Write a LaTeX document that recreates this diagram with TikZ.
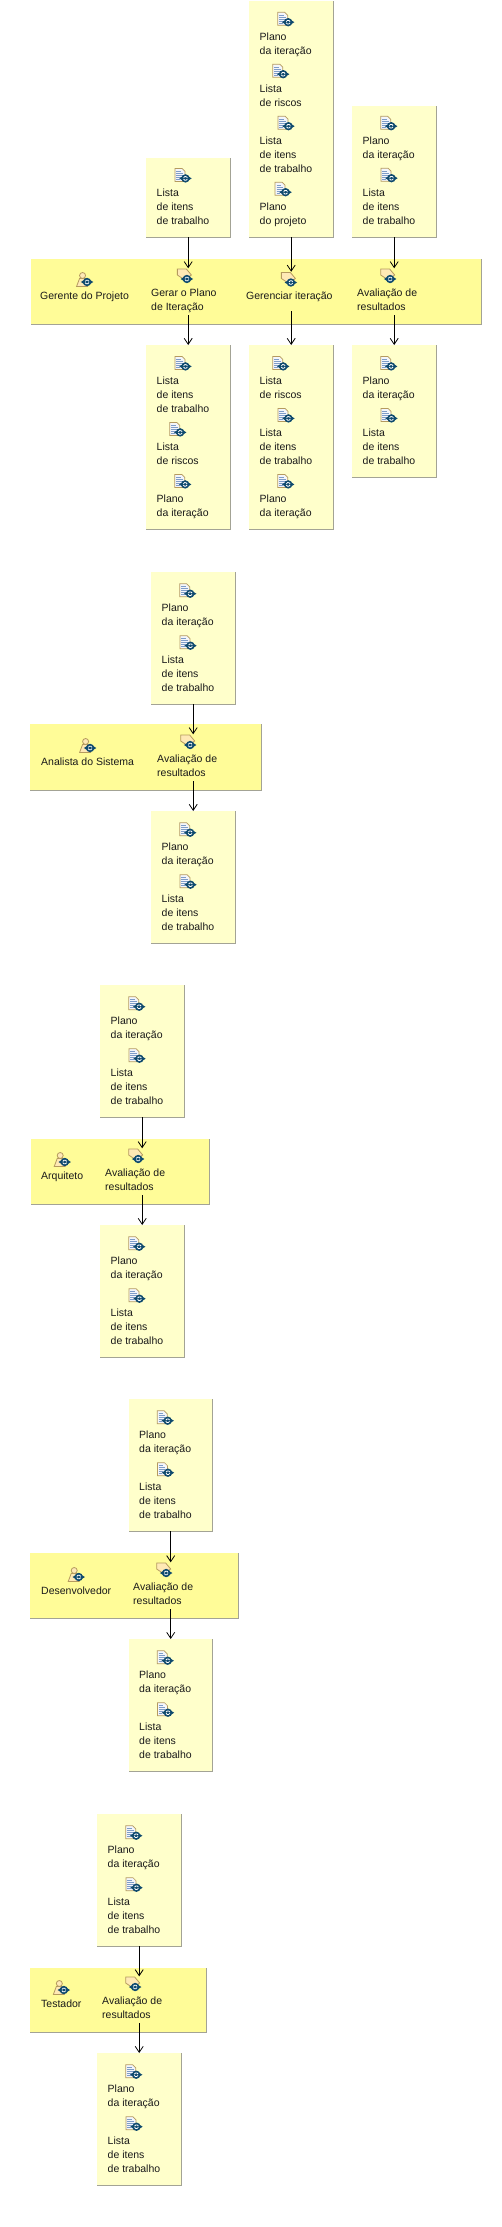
\documentclass[tikz,border=0pt]{standalone}
\usepackage{fontspec}
\setmainfont{Liberation Sans}
\usetikzlibrary{arrows.meta}
\definecolor{bandfill}{HTML}{FFFC98}
\definecolor{boxfill}{HTML}{FFFFCB}
\definecolor{edgegray}{HTML}{A3A395}
\definecolor{tanline}{HTML}{B59A5E}
\definecolor{badge}{HTML}{0F4A6E}
\definecolor{pagefill}{HTML}{F4F6FA}
\definecolor{pageline}{HTML}{7E9CC8}
\definecolor{foldfill}{HTML}{FFE9B5}
\definecolor{textcol}{HTML}{1A1A1A}
\tikzset{
  x=1pt,y=-1pt,
  lbl/.style={inner sep=0pt,align=left,text=textcol,font=\fontsize{10.5}{14}\selectfont},
  iconbox/.style={inner sep=0pt,minimum width=16pt,minimum height=15pt},
  databox/.style={inner sep=0pt,fill=boxfill,anchor=north west,minimum width=84pt},
  bandbox/.style={inner sep=0pt,fill=bandfill,anchor=north west},
  edgeline/.style={draw=edgegray,line width=0.9pt},
  flow/.style={draw=black,line width=0.9pt,-{Straight Barb[length=6pt,width=8pt,line width=0.8pt]}},
  badgemark/.pic={
    \fill[badge] (0,0) circle (4.2);
    \fill[badge] (-6.2,0) -- (-3,-2) -- (-3,2) -- cycle;
    \fill[badge] (6.2,0) -- (3,-2) -- (3,2) -- cycle;
    \draw[white,line width=0.8pt] (-1.9,0.6) arc (160:20:2);
    \draw[white,line width=0.8pt] (1.9,-0.6) arc (-20:-160:2);
  },
  docicon/.pic={
    \filldraw[draw=tanline,fill=pagefill,line width=0.7pt] (-8,-7) -- (-1,-7) -- (2,-4) -- (2,6) -- (-8,6) -- cycle;
    \draw[pageline,line width=0.7pt] (-6.5,-4) -- (-2,-4) (-6.5,-2) -- (0,-2) (-6.5,0) -- (0,0) (-6.5,2) -- (-2,2) (-6.5,4) -- (-3,4);
    \pic at (2.5,3) {badgemark};
  },
  acticon/.pic={
    \filldraw[draw=tanline,fill=foldfill,line width=0.8pt] (-8,-7) -- (1,-7) -- (6,-1) -- (1,3) -- (-2,3) -- (-8,-1) -- cycle;
    \pic at (1.5,3) {badgemark};
  },
  actoricon/.pic={
    \filldraw[draw=tanline,fill=foldfill,line width=0.8pt] (-8,7) -- (-5,-1) -- (1,-1) -- (3,7) -- cycle;
    \filldraw[draw=tanline,fill=foldfill,line width=0.8pt] (-2,-4) circle (3);
    \pic at (2.5,2.5) {badgemark};
  },
}
\newcommand\lineii[2]{\strut #1\\\strut #2}
\newcommand\lineiii[3]{\strut #1\\\strut #2\\\strut #3}
\newcommand\planoit{\lineii{Plano}{da iteração}}
\newcommand\listait{\lineiii{Lista}{de itens}{de trabalho}}
\newcommand\listari{\lineii{Lista}{de riscos}}
\newcommand\planopr{\lineii{Plano}{do projeto}}
% name, x, icon top, text
\newcommand\dataitem[4]{%
  \node[lbl,anchor=north west] (#1t) at (#2,#3+18.5) {#4};
  \node[iconbox,anchor=north] (#1i) at ([yshift=18.5pt]#1t.north) {};
  \pic at (#1i.center) {docicon};
}
% name, x, y, height
\newcommand\databoxat[4]{%
  \node[databox,minimum height=#4 pt] (#1) at (#2,#3) {};
  \draw[edgeline] (#1.north east) -- (#1.south east) -- (#1.south west);
}
% standard box with the two usual items
\newcommand\stdbox[3]{%
  \databoxat{#1}{#2}{#3}{132}
  \dataitem{#1a}{#2+10.5}{#3+11}{\planoit}
  \dataitem{#1b}{#2+10.5}{#3+63}{\listait}
}
% name, x, y, w, h
\newcommand\bandat[5]{%
  \node[bandbox,minimum width=#4 pt,minimum height=#5 pt] (#1) at (#2,#3) {};
  \draw[edgeline] (#1.north east) -- (#1.south east) -- (#1.south west);
}
% name, x, center y, text
\newcommand\actorat[4]{%
  \node[lbl,anchor=west] (#1t) at (#2,#3) {\strut #4};
  \node[iconbox,anchor=north] (#1i) at ([yshift=18pt]#1t.north) {};
  \pic at (#1i.center) {actoricon};
}
% name, x, center y, text, icon xshift, icon yshift
\newcommand\activityat[6]{%
  \node[lbl,anchor=west,minimum height=28pt] (#1t) at (#2,#3) {#4};
  \node[iconbox,anchor=north] (#1i) at ([xshift=#5pt,yshift=#6pt]#1t.north) {};
  \pic at (#1i.center) {acticon};
}
% from box above, through activity, to box below
\newcommand\flowthrough[3]{%
  \draw[flow] (#1.south) -- (#1.south |- #2i.north);
  \draw[flow] (#3.north |- #2t.south) -- (#3.north);
}
\newcommand\avaliacao{\lineii{Avaliação de}{resultados}}
\begin{document}
\begin{tikzpicture}
\useasboundingbox (0,0) rectangle (502,2227);
\fill[white] (0,0) rectangle (502,2227);

% Block 1: Gerente do Projeto
\databoxat{ta}{146}{158}{79}
\dataitem{taa}{156.5}{167.7}{\listait}
\databoxat{tb}{249}{1}{236}
\dataitem{tba}{259.5}{11.5}{\planoit}
\dataitem{tbb}{259.5}{63.5}{\listari}
\dataitem{tbc}{259.5}{115.5}{\listait}
\dataitem{tbd}{259.5}{181.5}{\planopr}
\databoxat{tc}{352}{106}{131}
\dataitem{tca}{362.5}{115.5}{\planoit}
\dataitem{tcb}{362.5}{167.5}{\listait}
\bandat{banda}{31}{259}{450}{65}
\actorat{gp}{40}{297}{Gerente do Projeto}
\activityat{aa}{151}{301}{\lineii{Gerar o Plano}{de Iteração}}{1.5}{18.5}
\activityat{ab}{246}{297}{\strut Gerenciar iteração}{0}{11}
\activityat{ac}{357}{301}{\avaliacao}{1.5}{18.5}
\databoxat{ba}{146}{345}{184}
\dataitem{baa}{156.5}{355.7}{\listait}
\dataitem{bab}{156.5}{421.7}{\listari}
\dataitem{bac}{156.5}{473.7}{\planoit}
\databoxat{bb}{249}{345}{184}
\dataitem{bba}{259.5}{355.7}{\listari}
\dataitem{bbb}{259.5}{407.7}{\listait}
\dataitem{bbc}{259.5}{473.7}{\planoit}
\databoxat{bc}{352}{345}{132}
\dataitem{bca}{362.5}{355.7}{\planoit}
\dataitem{bcb}{362.5}{407.7}{\listait}
\flowthrough{ta}{aa}{ba}
\flowthrough{tb}{ab}{bb}
\flowthrough{tc}{ac}{bc}

% Block 2: Analista do Sistema
\stdbox{tii}{151}{572}
\bandat{bandii}{30}{724}{231}{66}
\actorat{aii}{41}{763}{Analista do Sistema}
\activityat{vii}{157}{767}{\avaliacao}{1.5}{18.5}
\stdbox{bii}{151}{811}
\flowthrough{tii}{vii}{bii}

% Block 3: Arquiteto
\stdbox{tiii}{100}{985}
\bandat{bandiii}{31}{1139}{178}{65}
\actorat{aiii}{41}{1177}{Arquiteto}
\activityat{viii}{105}{1181}{\avaliacao}{1.5}{18.5}
\stdbox{biii}{100}{1225}
\flowthrough{tiii}{viii}{biii}

% Block 4: Desenvolvedor
\stdbox{tiv}{128.5}{1399}
\bandat{bandiv}{30}{1553}{208}{65}
\actorat{aiv}{41}{1592}{Desenvolvedor}
\activityat{viv}{133}{1595}{\avaliacao}{1.5}{18.5}
\stdbox{biv}{128.5}{1639}
\flowthrough{tiv}{viv}{biv}

% Block 5: Testador
\stdbox{tv}{97}{1814}
\bandat{bandv}{30}{1968}{176}{64}
\actorat{av}{41}{2005}{Testador}
\activityat{vv}{102}{2009}{\avaliacao}{1.5}{18.5}
\stdbox{bv}{97}{2053}
\flowthrough{tv}{vv}{bv}
\end{tikzpicture}
\end{document}
